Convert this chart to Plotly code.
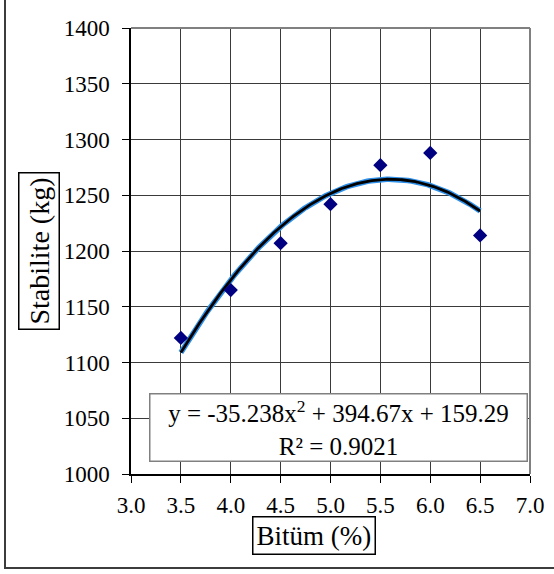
import numpy as np
import plotly.graph_objects as go

# Bitumen content (%) and measured Marshall stability (kg)
bitum = [3.5, 4.0, 4.5, 5.0, 5.5, 6.0, 6.5]
stabilite = [1122, 1165, 1207, 1242, 1277, 1288, 1214]

# Second-order polynomial trendline coefficients (a*x^2 + b*x + c)
coef_a, coef_b, coef_c = -35.238, 394.67, 159.29
r_squared = 0.9021

x_ticks = [3.0, 3.5, 4.0, 4.5, 5.0, 5.5, 6.0, 6.5, 7.0]
y_ticks = [1000, 1050, 1100, 1150, 1200, 1250, 1300, 1350, 1400]

FONT = "Liberation Serif"

# Plot-area geometry in pixels
W, H = 554, 574
L, R, T, B = 131, 24, 28, 100
PW, PH = W - L - R, H - T - B


def px_x(px):
    return (px - L) / PW


def px_y(py):
    return (H - B - py) / PH


trend_x = np.linspace(min(bitum), max(bitum), 200)
trend_y = coef_a * trend_x ** 2 + coef_b * trend_x + coef_c

fig = go.Figure()

# trendline: light-blue halo with a black core
fig.add_trace(go.Scatter(x=trend_x, y=trend_y, mode="lines",
                         line=dict(color="#2E8FE8", width=5.5),
                         hoverinfo="skip"))
fig.add_trace(go.Scatter(x=trend_x, y=trend_y, mode="lines",
                         line=dict(color="#000000", width=2.8),
                         hoverinfo="skip"))
fig.add_trace(go.Scatter(x=bitum, y=stabilite, mode="markers",
                         marker=dict(symbol="diamond", size=11,
                                     color="#000080", line=dict(width=0))))

axis_common = dict(
    showgrid=True, gridcolor="#3a3a3a", gridwidth=1,
    showline=True, linecolor="#000000", linewidth=1.5,
    ticks="outside", ticklen=7, tickcolor="#000000", tickwidth=1.2,
    tickfont=dict(family=FONT, size=23, color="#000000"),
    zeroline=False, mirror=False,
)

fig.update_xaxes(range=[3.0, 7.0], tickvals=x_ticks,
                 ticktext=[f"{v:.1f}" for v in x_ticks],
                 ticklabelstandoff=3, **axis_common)
fig.update_yaxes(range=[1000, 1400], tickvals=y_ticks,
                 ticktext=[str(v) for v in y_ticks],
                 ticklabelstandoff=8, **axis_common)

shapes = [
    # grey top and right edges of the plot area
    dict(type="line", xref="paper", yref="paper", x0=0, x1=1, y0=1, y1=1,
         line=dict(color="#808080", width=2)),
    dict(type="line", xref="paper", yref="paper", x0=1, x1=1, y0=0, y1=1,
         line=dict(color="#808080", width=2)),
    # outer chart frame
    dict(type="rect", xref="paper", yref="paper",
         x0=px_x(5), x1=px_x(W + 4), y0=px_y(568), y1=px_y(-4),
         line=dict(color="#3c3c3c", width=2), fillcolor="rgba(0,0,0,0)"),
]

annotations = [
    dict(text=f"y = {coef_a}x<sup>2</sup> + {coef_b}x + {coef_c}<br>R² = {r_squared}",
         xref="paper", yref="paper", x=px_x(338.5), y=px_y(427),
         xanchor="center", yanchor="middle", showarrow=False, align="center",
         font=dict(family=FONT, size=25, color="#000000"),
         bgcolor="#ffffff", bordercolor="#808080", borderwidth=1.5,
         borderpad=2, width=372, height=62),
    dict(text="Bitüm (%)", xref="paper", yref="paper",
         x=px_x(314), y=px_y(535), xanchor="center", yanchor="middle",
         showarrow=False, font=dict(family=FONT, size=27, color="#000000"),
         bgcolor="#ffffff", bordercolor="#000000", borderwidth=1.5, borderpad=3),
    dict(text="Stabilite (kg)", xref="paper", yref="paper",
         x=px_x(39), y=px_y(251), xanchor="center", yanchor="middle",
         textangle=-90, showarrow=False,
         font=dict(family=FONT, size=28, color="#000000"),
         bgcolor="#ffffff", bordercolor="#000000", borderwidth=1.5, borderpad=4),
]

fig.update_layout(
    width=W, height=H,
    margin=dict(l=L, r=R, t=T, b=B, autoexpand=False),
    paper_bgcolor="#ffffff", plot_bgcolor="#ffffff",
    showlegend=False,
    shapes=shapes, annotations=annotations,
    font=dict(family=FONT, color="#000000"),
)

fig.write_html("out.html")
